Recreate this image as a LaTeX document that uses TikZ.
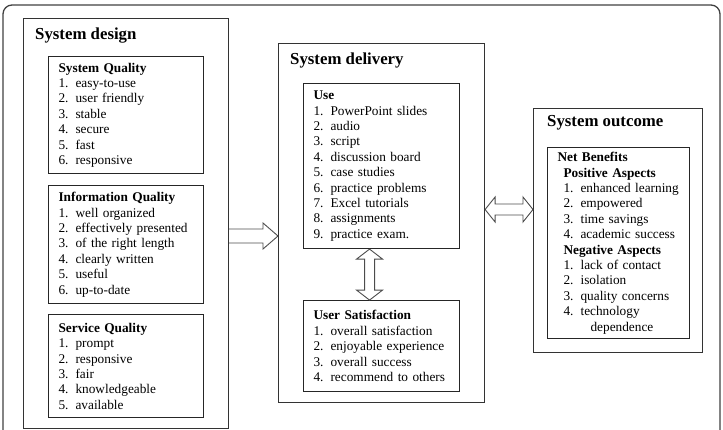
\documentclass[tikz,border=0pt]{standalone}
\usepackage{fontspec}
\setmainfont{Liberation Serif}
\usepackage{tikz}
\usetikzlibrary{positioning,calc}
\tikzset{
  panel/.style={draw=black!80, line width=1.1pt, anchor=north west, inner sep=0pt},
  listbox/.style={draw=black!85, line width=1.1pt, align=left, inner xsep=10pt, inner ysep=0pt,
    font=\fontsize{13.3}{15.4}\selectfont},
  paneltitle/.style={anchor=west, inner sep=0pt, font=\fontsize{16.8}{18}\selectfont\bfseries},
  hollow/.style={draw=black!70, line width=0.9pt, line join=miter},
}
\newcommand{\nr}[1]{\makebox[17pt][l]{#1}}

\begin{document}
\begin{tikzpicture}[x=1pt, y=-1pt]
	\useasboundingbox (0,0) rectangle (723,430);
	% frame of the figure
	\draw[draw=black!75, line width=1.3pt, rounded corners=9pt] (3,5) rectangle (720,470);
	% System design
	\node[panel, minimum width=205pt, minimum height=410pt] (design) at (23,18) {};
	\node[paneltitle] (designtitle) at ($(design.north west)+(12,18)$) {System design};
	\node[listbox, text width=135pt, minimum height=117pt, below right=38pt and 25pt of design.north west] (sysq)
		{\textbf{System Quality}\\ \nr{1.}easy-to-use\\ \nr{2.}user friendly\\ \nr{3.}stable\\
		 \nr{4.}secure\\ \nr{5.}fast\\ \nr{6.}responsive};
	\node[listbox, text width=135pt, minimum height=118pt, below=11pt of sysq] (infoq)
		{\textbf{Information Quality}\\ \nr{1.}well organized\\ \nr{2.}effectively presented\\
		 \nr{3.}of the right length\\ \nr{4.}clearly written\\ \nr{5.}useful\\ \nr{6.}up-to-date};
	\node[listbox, text width=135pt, minimum height=103pt, below=10pt of infoq] (servq)
		{\textbf{Service Quality}\\ \nr{1.}prompt\\ \nr{2.}responsive\\ \nr{3.}fair\\
		 \nr{4.}knowledgeable\\ \nr{5.}available};
	% System delivery
	\node[panel, minimum width=206pt, minimum height=359pt] (delivery) at (278,43) {};
	\node[paneltitle] (deliverytitle) at ($(delivery.north west)+(12,17)$) {System delivery};
	\node[listbox, text width=136pt, minimum height=165pt, below right=40pt and 25pt of delivery.north west] (use)
		{\textbf{Use}\\ \nr{1.}PowerPoint slides\\ \nr{2.}audio\\ \nr{3.}script\\ \nr{4.}discussion board\\
		 \nr{5.}case studies\\ \nr{6.}practice problems\\ \nr{7.}Excel tutorials\\ \nr{8.}assignments\\
		 \nr{9.}practice exam.};
	\node[listbox, text width=136pt, minimum height=91pt, below=51pt of use] (usersat)
		{\textbf{User Satisfaction}\\ \nr{1.}overall satisfaction\\ \nr{2.}enjoyable experience\\
		 \nr{3.}overall success\\ \nr{4.}recommend to others};
	% System outcome
	\node[panel, minimum width=169pt, minimum height=244pt] (outcome) at (533,108) {};
	\node[paneltitle] (outcometitle) at ($(outcome.north west)+(14,15)$) {System outcome};
	\node[listbox, text width=122pt, minimum height=191pt, below right=39pt and 14pt of outcome.north west] (netben)
		{\textbf{Net Benefits}\\ \hspace*{6pt}\textbf{Positive Aspects}\\
		 \hspace*{6pt}\nr{1.}enhanced learning\\ \hspace*{6pt}\nr{2.}empowered\\
		 \hspace*{6pt}\nr{3.}time savings\\ \hspace*{6pt}\nr{4.}academic success\\
		 \hspace*{6pt}\textbf{Negative Aspects}\\ \hspace*{6pt}\nr{1.}lack of contact\\
		 \hspace*{6pt}\nr{2.}isolation\\ \hspace*{6pt}\nr{3.}quality concerns\\
		 \hspace*{6pt}\nr{4.}technology\\ \hspace*{33pt}dependence};
	% hollow arrow design -> delivery
	\coordinate (a1) at (design.east |- 0,236);
	\coordinate (a2) at (delivery.west |- a1);
	\draw[hollow] ($(a1)+(0,-7)$) -- ($(a2)+(-15,-7)$) -- ++(0,-6) -- (a2) -- ++(-15,13) -- ++(0,-6) -- ($(a1)+(0,7)$);
	% double arrow use <-> user satisfaction
	\coordinate (b1) at ($(use.south)+(-12,0)$);
	\coordinate (b2) at (usersat.north -| b1);
	\draw[hollow] (b1) -- ++(13,10) -- ++(-8,0) -- ($(b2)+(5,-10)$) -- ++(8,0) -- (b2) -- ++(-13,-10)
		-- ++(8,0) -- ($(b1)+(-5,10)$) -- ++(-8,0) -- cycle;
	% double arrow delivery <-> outcome
	\coordinate (c1) at (delivery.east |- 0,209.5);
	\coordinate (c2) at (outcome.west |- c1);
	\draw[hollow] (c1) -- ++(10,-12.5) -- ++(0,7) -- ($(c2)+(-10,-5.5)$) -- ++(0,-7) -- (c2) -- ++(-10,12.5)
		-- ++(0,-7) -- ($(c1)+(10,5.5)$) -- ++(0,7) -- cycle;
\end{tikzpicture}
\end{document}
